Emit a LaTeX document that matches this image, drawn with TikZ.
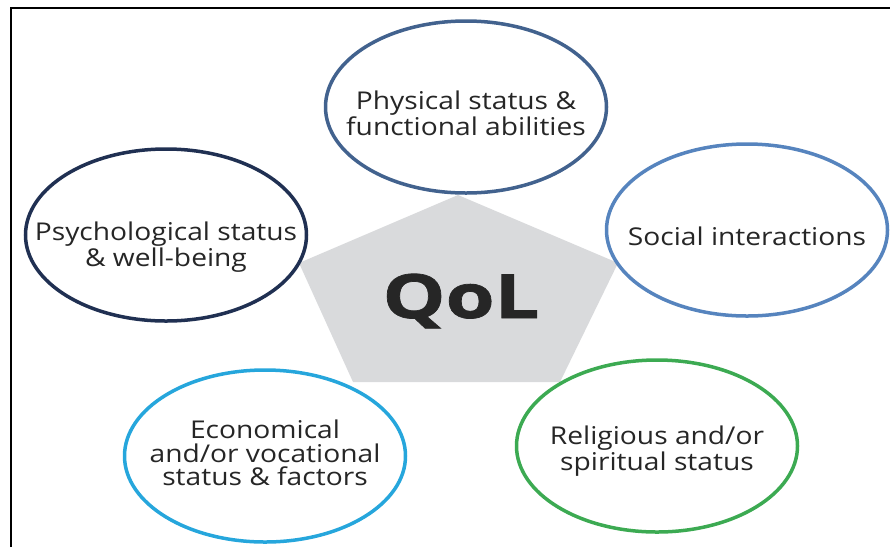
\documentclass[tikz,border=0pt]{standalone}
\usepackage{fontspec}
\setmainfont{Open Sans}[FakeStretch=1.15]
\newfontfamily\qolfont{Open Sans}[FakeStretch=1.3, BoldFeatures={FakeBold=1.2}]
\usetikzlibrary{shapes.geometric}
\definecolor{qolphys}{RGB}{66,98,142}
\definecolor{qolpsych}{RGB}{32,48,82}
\definecolor{qolsocial}{RGB}{86,132,190}
\definecolor{qolecon}{RGB}{38,166,220}
\definecolor{qolrelig}{RGB}{60,170,82}
\definecolor{qolgray}{RGB}{217,218,220}
\definecolor{qoltext}{RGB}{38,38,38}

\begin{document}
\begin{tikzpicture}[x=1pt, y=-1pt,
  aspect/.style={draw, ellipse, fill=white, line width=3.5pt, minimum width=281pt, minimum height=172pt, inner sep=0pt},
  aspecttext/.style={align=center, text=qoltext, font=\fontsize{24.5}{23.5}\selectfont}]
\useasboundingbox (0,0) rectangle (890,547);
% Frame
\draw[line width=2.5pt] (11,547) -- (11,8) -- (890,8);
% Centre pentagon
\fill[qolgray] (458,195) -- (618,263) -- (560,382) -- (353,382) -- (299,263) -- cycle;
\node[anchor=base, text=qoltext, font=\qolfont\bfseries\fontsize{61}{61}\selectfont] (qol) at (461,318) {QoL};
% Aspects
\node[aspect, draw=qolphys, label={[aspecttext, yshift=-6pt]center:Physical status \&\\functional abilities}] (phys) at (466,107) {};
\node[aspect, draw=qolpsych, label={[aspecttext, yshift=-12pt]center:Psychological status\\\& well-being}] (psych) at (166,235) {};
\node[aspect, draw=qolsocial, label={[aspecttext, yshift=-6pt]center:Social interactions}] (social) at (747,230) {};
\node[aspect, draw=qolecon, label={[aspecttext, yshift=3pt]center:Economical\\and/or vocational\\status \& factors}] (econ) at (265,456) {};
\node[aspect, draw=qolrelig, label={[aspecttext, yshift=-5pt]center:Religious and/or\\spiritual status}] (relig) at (657,446) {};
\end{tikzpicture}
\end{document}
